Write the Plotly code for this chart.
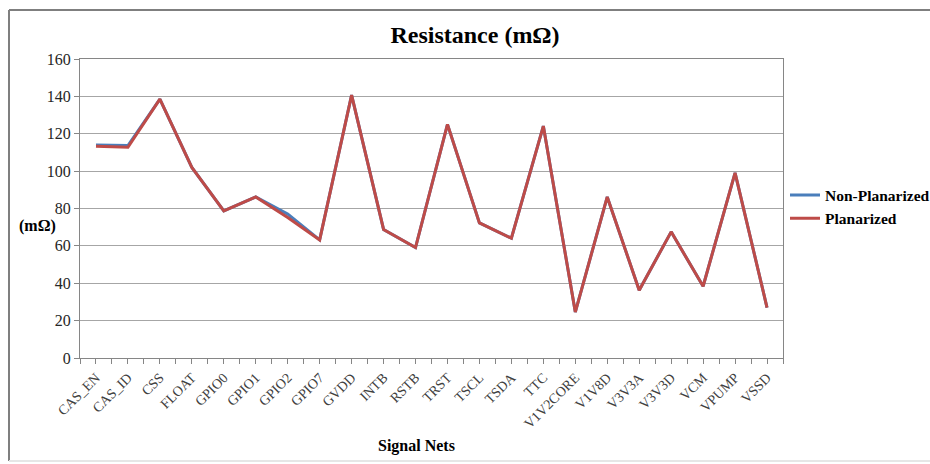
import plotly.graph_objects as go

categories = ["CAS_EN", "CAS_ID", "CSS", "FLOAT", "GPIO0", "GPIO1", "GPIO2", "GPIO7",
              "GVDD", "INTB", "RSTB", "TRST", "TSCL", "TSDA", "TTC", "V1V2CORE",
              "V1V8D", "V3V3A", "V3V3D", "VCM", "VPUMP", "VSSD"]
non_planarized = [114.0, 113.7, 138.5, 102.0, 78.7, 86.2, 77.0, 63.2,
                  140.7, 68.8, 59.1, 125.0, 72.3, 64.1, 124.1, 24.6,
                  86.2, 36.3, 67.5, 38.4, 99.1, 27.0]
planarized = [113.3, 112.8, 138.5, 102.0, 78.7, 86.2, 75.2, 63.2,
              140.7, 68.8, 59.1, 125.0, 72.3, 64.1, 124.1, 24.6,
              86.2, 36.3, 67.5, 38.4, 99.1, 27.0]
y_ticks = [0, 20, 40, 60, 80, 100, 120, 140, 160]

idx = list(range(len(categories)))
SERIF = "Liberation Serif, Times New Roman, serif"

fig = go.Figure()
fig.add_trace(go.Scatter(x=idx, y=non_planarized, mode="lines", name="Non-Planarized",
                         line=dict(color="#4a7ebb", width=3)))
fig.add_trace(go.Scatter(x=idx, y=planarized, mode="lines", name="Planarized",
                         line=dict(color="#be4b48", width=3)))

W, H = 930, 464
L, T = 80, 59
R = W - 783
B = H - 358
pw, ph = W - L - R, H - T - B

def px(xw):
    return (xw - L) / pw

def py(yw):
    return (H - B - yw) / ph

fig.update_layout(
    width=W, height=H, autosize=False,
    margin=dict(l=L, r=R, t=T, b=B, autoexpand=False),
    paper_bgcolor="white", plot_bgcolor="white",
    title=dict(text="<b>Resistance (mΩ)</b>", x=px(475), xref="paper", xanchor="center",
               y=1 - 35 / H, yanchor="middle",
               font=dict(family=SERIF, size=24, color="black")),
    showlegend=True,
    legend=dict(x=px(785), xref="paper", xanchor="left", y=py(207), yanchor="middle",
                font=dict(family=SERIF, size=15.5, color="black", weight="bold"),
                bgcolor="rgba(0,0,0,0)", itemwidth=30, tracegroupgap=0),
    xaxis=dict(range=[-0.5, len(categories) - 0.5], tickmode="array", tickvals=idx,
               ticktext=categories, tickangle=-45, ticks="outside", ticklen=5,
               tickcolor="#868686", showgrid=False, zeroline=False,
               showline=True, linecolor="#868686", linewidth=1, mirror=True,
               tickfont=dict(family=SERIF, size=14, color="#404040"),
               minor=dict(tick0=-0.5, dtick=1, ticks="outside", ticklen=5, tickcolor="#868686")),
    yaxis=dict(range=[0, 160], tickvals=y_ticks, ticks="outside", ticklen=5,
               tickcolor="#868686", showgrid=True, gridcolor="#a6a6a6", gridwidth=1,
               zeroline=False, showline=True, linecolor="#868686", linewidth=1, mirror=True,
               tickfont=dict(family=SERIF, size=16, color="#262626")),
)

fig.add_annotation(text="<b>(mΩ)</b>", x=px(37), y=py(226), xref="paper", yref="paper",
                   showarrow=False, xanchor="center", yanchor="middle",
                   font=dict(family=SERIF, size=16, color="black"))
fig.add_annotation(text="<b>Signal Nets</b>", x=px(416), y=py(446), xref="paper", yref="paper",
                   showarrow=False, xanchor="center", yanchor="middle",
                   font=dict(family=SERIF, size=16, color="black"))

# outer chart border
fig.add_shape(type="line", xref="paper", yref="paper", x0=px(9), x1=px(935), y0=py(10), y1=py(10),
              line=dict(color="#7f7f7f", width=2))
fig.add_shape(type="line", xref="paper", yref="paper", x0=px(9), x1=px(9), y0=py(10), y1=py(461),
              line=dict(color="#7f7f7f", width=2))
fig.add_shape(type="line", xref="paper", yref="paper", x0=px(9), x1=px(935), y0=py(461), y1=py(461),
              line=dict(color="#e6e6e6", width=2))

fig.write_html(
    "out.html",
    config={"responsive": False, "displayModeBar": False},
    post_script="document.body.style.margin='0';document.body.style.overflow='hidden';",
)
